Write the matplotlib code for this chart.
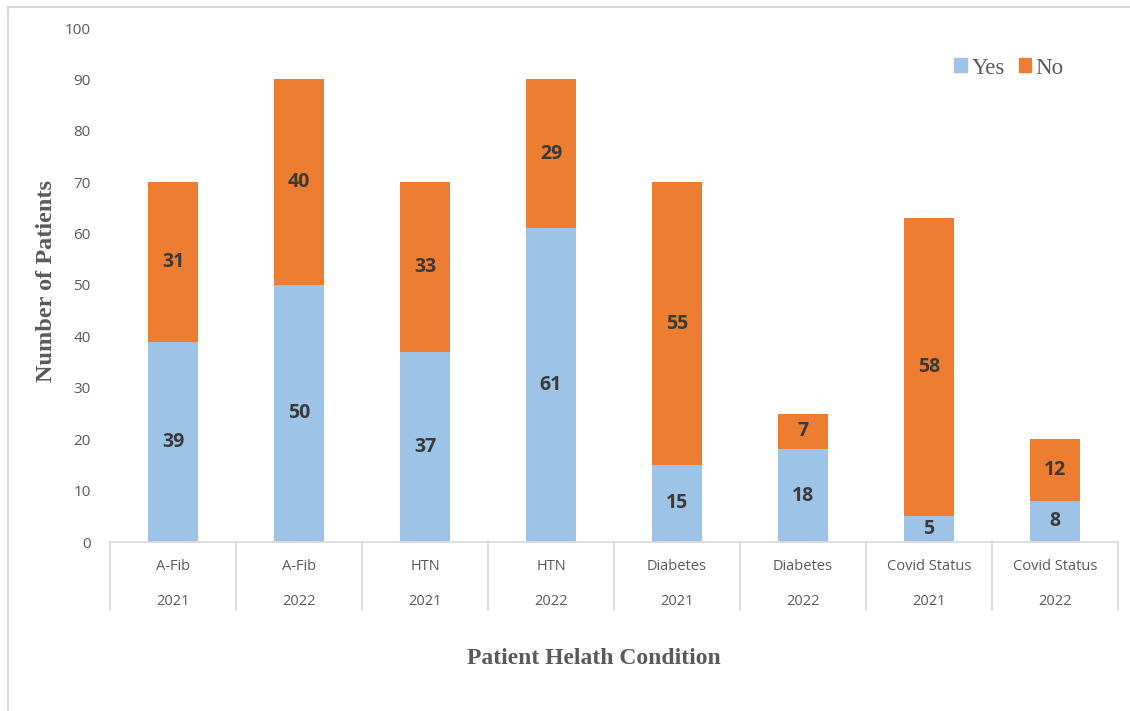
import matplotlib
matplotlib.use("Agg")
import matplotlib.pyplot as plt
from matplotlib.lines import Line2D
from matplotlib.patches import Patch
import numpy as np

conditions = ["A-Fib", "A-Fib", "HTN", "HTN", "Diabetes", "Diabetes", "Covid Status", "Covid Status"]
years = ["2021", "2022", "2021", "2022", "2021", "2022", "2021", "2022"]
yes_vals = [39, 50, 37, 61, 15, 18, 5, 8]
no_vals = [31, 40, 33, 29, 55, 7, 58, 12]

BLUE = "#9DC3E6"
ORANGE = "#ED7D31"
GRID = "#D9D9D9"
TXT = "#595959"
LBL = "#3A3A3A"
sans = "Open Sans"
serif = "Liberation Serif"

W, H = 1130, 711
fig = plt.figure(figsize=(W / 100, H / 100), dpi=100)
ax = fig.add_axes([110 / W, 1 - 542 / H, (1118 - 110) / W, (542 - 28) / H])

x = np.arange(len(conditions))
bw = 0.4
ax.bar(x, yes_vals, bw, color=BLUE, label="Yes", zorder=2)
ax.bar(x, no_vals, bw, bottom=yes_vals, color=ORANGE, label="No", zorder=2)

for xi, yv, nv in zip(x, yes_vals, no_vals):
    ax.text(xi, yv / 2, str(yv), ha="center", va="center", fontsize=14,
            fontweight="bold", color=LBL, family=sans)
    ax.text(xi, yv + nv / 2, str(nv), ha="center", va="center", fontsize=14,
            fontweight="bold", color=LBL, family=sans)

ax.set_xlim(-0.5, len(conditions) - 0.5)
ax.set_ylim(0, 100)
ax.set_yticks(np.arange(0, 101, 10))
ax.tick_params(axis="y", length=0, pad=14, labelsize=11, labelcolor=TXT)
for t in ax.get_yticklabels():
    t.set_family(sans)
ax.set_xticks([])
for s in ["top", "right", "left"]:
    ax.spines[s].set_visible(False)
ax.spines["bottom"].set_color(GRID)
ax.spines["bottom"].set_linewidth(1.2)

tr = ax.get_xaxis_transform()
for b in np.arange(-0.5, len(conditions), 1.0):
    ax.add_line(Line2D([b, b], [0, -0.132], transform=tr, color=GRID, lw=1.2, clip_on=False))
for xi, c, yr in zip(x, conditions, years):
    ax.text(xi, -0.048, c, transform=tr, ha="center", va="center", fontsize=10.5,
            color=TXT, family=sans)
    ax.text(xi, -0.115, yr, transform=tr, ha="center", va="center", fontsize=10.5,
            color=TXT, family=sans)

fig.text(47 / W, 1 - 281 / H, "Number of Patients", rotation=90, ha="center", va="center",
         fontsize=17.5, fontweight="bold", color=TXT, family=serif)
fig.text(594 / W, 1 - 658 / H, "Patient Helath Condition", ha="center", va="center",
         fontsize=17, fontweight="bold", color=TXT, family=serif)

handles = [Patch(color=BLUE), Patch(color=ORANGE)]
leg = ax.legend(handles, ["Yes", "No"], loc="center", bbox_to_anchor=(1009 / W, 1 - 68 / H),
                bbox_transform=fig.transFigure, ncol=2, frameon=False,
                prop={"family": serif, "size": 16.5}, handlelength=0.55, handleheight=0.55,
                handletextpad=0.2, columnspacing=0.6)
for t in leg.get_texts():
    t.set_color(TXT)

fig.add_artist(Line2D([8 / W, 8 / W], [0, 1 - 7 / H], transform=fig.transFigure, color=GRID, lw=1.5))
fig.add_artist(Line2D([8 / W, 1], [1 - 7 / H, 1 - 7 / H], transform=fig.transFigure, color=GRID, lw=1.5))

fig.savefig("out.png", dpi=100)
